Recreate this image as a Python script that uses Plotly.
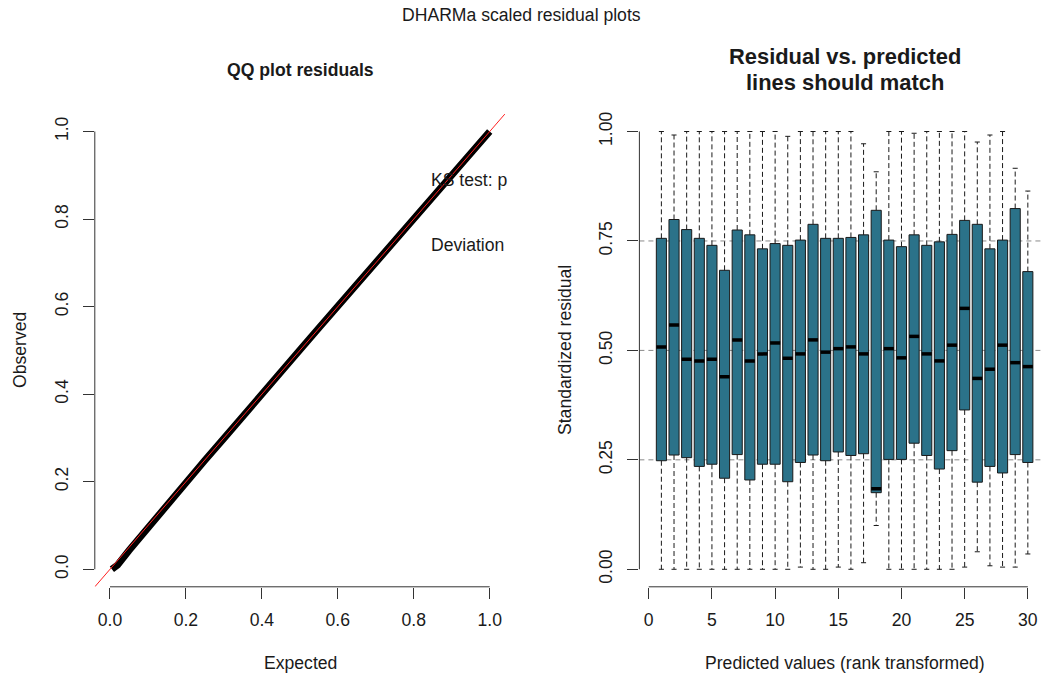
import plotly.graph_objects as go

W, H = 1043, 679
FONT = "Liberation Sans"
FS = 17.6

# ---- QQ plot data (expected vs observed quantiles of scaled residuals) ----
qq_expected = [0.005, 0.02, 0.05, 0.10, 0.15, 0.20, 0.25, 0.30, 0.35, 0.40, 0.45,
               0.50, 0.55, 0.60, 0.65, 0.70, 0.75, 0.80, 0.85, 0.90, 0.95, 1.00]
qq_observed = [0.000, 0.010, 0.043, 0.096, 0.148, 0.198, 0.249, 0.299, 0.351, 0.400, 0.450,
               0.501, 0.551, 0.601, 0.651, 0.701, 0.751, 0.801, 0.851, 0.901, 0.951, 1.000]

# ---- residual vs predicted: box statistics per rank bin ----
bins = list(range(1, 31))
box_q1 = [0.248, 0.261, 0.255, 0.235, 0.240, 0.208, 0.262, 0.204, 0.240, 0.240,
          0.200, 0.244, 0.261, 0.248, 0.268, 0.260, 0.264, 0.175, 0.251, 0.251,
          0.288, 0.260, 0.229, 0.271, 0.364, 0.199, 0.235, 0.220, 0.262, 0.244]
box_median = [0.508, 0.558, 0.480, 0.476, 0.480, 0.440, 0.524, 0.476, 0.492, 0.517,
              0.482, 0.492, 0.524, 0.496, 0.504, 0.508, 0.492, 0.184, 0.504, 0.483,
              0.532, 0.492, 0.476, 0.512, 0.596, 0.436, 0.457, 0.512, 0.472, 0.463]
box_q3 = [0.756, 0.799, 0.776, 0.756, 0.740, 0.683, 0.775, 0.764, 0.732, 0.744,
          0.740, 0.752, 0.788, 0.756, 0.756, 0.758, 0.764, 0.820, 0.752, 0.737,
          0.764, 0.740, 0.748, 0.765, 0.797, 0.788, 0.732, 0.752, 0.824, 0.680]
whisk_hi = [1.000, 0.992, 1.000, 1.000, 1.000, 1.000, 1.000, 1.000, 1.000, 1.000,
            0.989, 1.000, 1.000, 1.000, 1.000, 1.000, 0.972, 0.908, 1.000, 1.000,
            0.996, 1.000, 1.000, 1.000, 1.000, 0.976, 0.992, 1.000, 0.916, 0.864]
whisk_lo = [0.000, 0.000, 0.000, 0.000, 0.000, 0.000, 0.000, 0.000, 0.000, 0.000,
            0.000, 0.005, 0.000, 0.000, 0.005, 0.000, 0.015, 0.100, 0.000, 0.000,
            0.000, 0.000, 0.000, 0.000, 0.005, 0.040, 0.008, 0.005, 0.005, 0.035]

qq_ticks = [0.0, 0.2, 0.4, 0.6, 0.8, 1.0]
qq_ticklabels = ["0.0", "0.2", "0.4", "0.6", "0.8", "1.0"]
res_xticks = [0, 5, 10, 15, 20, 25, 30]
res_yticks = [0.0, 0.25, 0.5, 0.75, 1.0]
res_yticklabels = ["0.00", "0.25", "0.50", "0.75", "1.00"]
grid_levels = [0.25, 0.5, 0.75]

BOX_FILL = "#2b7289"
INK = "#1a1a1a"
AXIS_COL = "#333333"
BOX_W = 0.8
CAP_W = 0.4

qq_range = [-0.04, 1.04]
res_xrange = [-0.74, 31.2]
res_yrange = [-0.04, 1.04]


def px(x):
    return x / W


def py(y):
    return 1 - y / H


fig = go.Figure()

# QQ band and 1:1 reference line
fig.add_trace(go.Scatter(x=qq_expected, y=qq_observed, mode="lines",
                         line=dict(color="black", width=7),
                         xaxis="x", yaxis="y", hoverinfo="skip"))
fig.add_trace(go.Scatter(x=qq_range, y=qq_range, mode="lines",
                         line=dict(color="#ff2020", width=1),
                         xaxis="x", yaxis="y", hoverinfo="skip"))

# Whiskers (dashed) and staples
wx, wy, cx, cy = [], [], [], []
for i, lo, q1, q3, hi in zip(bins, whisk_lo, box_q1, box_q3, whisk_hi):
    wx += [i, i, None, i, i, None]
    wy += [q3, hi, None, q1, lo, None]
    cx += [i - CAP_W / 2, i + CAP_W / 2, None, i - CAP_W / 2, i + CAP_W / 2, None]
    cy += [hi, hi, None, lo, lo, None]
fig.add_trace(go.Scatter(x=wx, y=wy, mode="lines",
                         line=dict(color=INK, width=1, dash="5px,3px"),
                         xaxis="x2", yaxis="y2", hoverinfo="skip"))
fig.add_trace(go.Scatter(x=cx, y=cy, mode="lines",
                         line=dict(color=INK, width=1),
                         xaxis="x2", yaxis="y2", hoverinfo="skip"))

# Boxes
fig.add_trace(go.Bar(x=bins, y=[b - a for a, b in zip(box_q1, box_q3)], base=box_q1,
                     width=BOX_W, marker=dict(color=BOX_FILL, line=dict(color=INK, width=1)),
                     xaxis="x2", yaxis="y2", hoverinfo="skip"))

# Medians
mx, my = [], []
for i, m in zip(bins, box_median):
    mx += [i - BOX_W / 2, i + BOX_W / 2, None]
    my += [m, m, None]
fig.add_trace(go.Scatter(x=mx, y=my, mode="lines",
                         line=dict(color="black", width=3.5),
                         xaxis="x2", yaxis="y2", hoverinfo="skip"))

shapes = [
    dict(type="line", xref="x", yref="y domain", x0=0, x1=1, y0=0, y1=0,
         line=dict(color=AXIS_COL, width=1)),
    dict(type="line", xref="x domain", yref="y", x0=0, x1=0, y0=0, y1=1,
         line=dict(color=AXIS_COL, width=1)),
    dict(type="line", xref="x2", yref="y2 domain", x0=0, x1=30, y0=0, y1=0,
         line=dict(color=AXIS_COL, width=1)),
    dict(type="line", xref="x2 domain", yref="y2", x0=0, x1=0, y0=0, y1=1,
         line=dict(color=AXIS_COL, width=1)),
]
for g in grid_levels:
    shapes.append(dict(type="line", xref="x2 domain", yref="y2", x0=0, x1=1, y0=g, y1=g,
                       layer="below", line=dict(color="#8a8a8a", width=1, dash="5px,4px")))

font = dict(family=FONT, size=FS, color="#1a1a1a")
annotations = [
    dict(text="DHARMa scaled residual plots", x=px(521.5), y=py(15), xref="paper", yref="paper",
         showarrow=False, font=font, xanchor="center", yanchor="middle"),
    dict(text="<b>QQ plot residuals</b>", x=px(300), y=py(70), xref="paper", yref="paper",
         showarrow=False, font=font, xanchor="center", yanchor="middle"),
    dict(text="<b>Residual vs. predicted</b>", x=px(844.5), y=py(56), xref="paper", yref="paper",
         showarrow=False, font=dict(family=FONT, size=21.9, color="#1a1a1a"),
         xanchor="center", yanchor="middle"),
    dict(text="<b>lines should match</b>", x=px(844.5), y=py(82), xref="paper", yref="paper",
         showarrow=False, font=dict(family=FONT, size=21.9, color="#1a1a1a"),
         xanchor="center", yanchor="middle"),
    dict(text="Expected", x=px(300), y=py(663), xref="paper", yref="paper",
         showarrow=False, font=font, xanchor="center", yanchor="middle"),
    dict(text="Predicted values (rank transformed)", x=px(845), y=py(663), xref="paper", yref="paper",
         showarrow=False, font=font, xanchor="center", yanchor="middle"),
    dict(text="Observed", x=px(20), y=py(350), xref="paper", yref="paper", textangle=-90,
         showarrow=False, font=font, xanchor="center", yanchor="middle"),
    dict(text="Standardized residual", x=px(565), y=py(350), xref="paper", yref="paper",
         textangle=-90, showarrow=False, font=font, xanchor="center", yanchor="middle"),
    dict(text="KS test: p", x=0.84, y=0.889, xref="x", yref="y",
         showarrow=False, font=font, xanchor="left", yanchor="middle"),
    dict(text="Deviation", x=0.84, y=0.74, xref="x", yref="y",
         showarrow=False, font=font, xanchor="left", yanchor="middle"),
]

tickfont = dict(family=FONT, size=FS, color="#1a1a1a")
common = dict(showgrid=False, zeroline=False, showline=False, ticks="outside", ticklen=11,
              tickwidth=1, tickcolor=AXIS_COL, tickfont=tickfont, automargin=False,
              fixedrange=True)

ydom = [py(586.8), py(114)]
fig.update_layout(
    width=W, height=H, template="none",
    margin=dict(l=0, r=0, t=0, b=0),
    paper_bgcolor="white", plot_bgcolor="white",
    showlegend=False, barmode="overlay",
    xaxis=dict(domain=[px(94.8), px(504.9)], range=qq_range, anchor="y",
               tickvals=qq_ticks, ticktext=qq_ticklabels, ticklabelstandoff=6, **common),
    yaxis=dict(domain=ydom, range=qq_range, anchor="x",
               tickvals=qq_ticks, ticktext=qq_ticklabels, tickangle=-90,
               ticklabelstandoff=8, **common),
    xaxis2=dict(domain=[px(639.4), 1.0], range=res_xrange, anchor="y2",
                tickvals=res_xticks, ticklabelstandoff=6, **common),
    yaxis2=dict(domain=ydom, range=res_yrange, anchor="x2",
                tickvals=res_yticks, ticktext=res_yticklabels, tickangle=-90,
                ticklabelstandoff=8, **common),
    shapes=shapes,
    annotations=annotations,
)

fig.write_html("out.html")
